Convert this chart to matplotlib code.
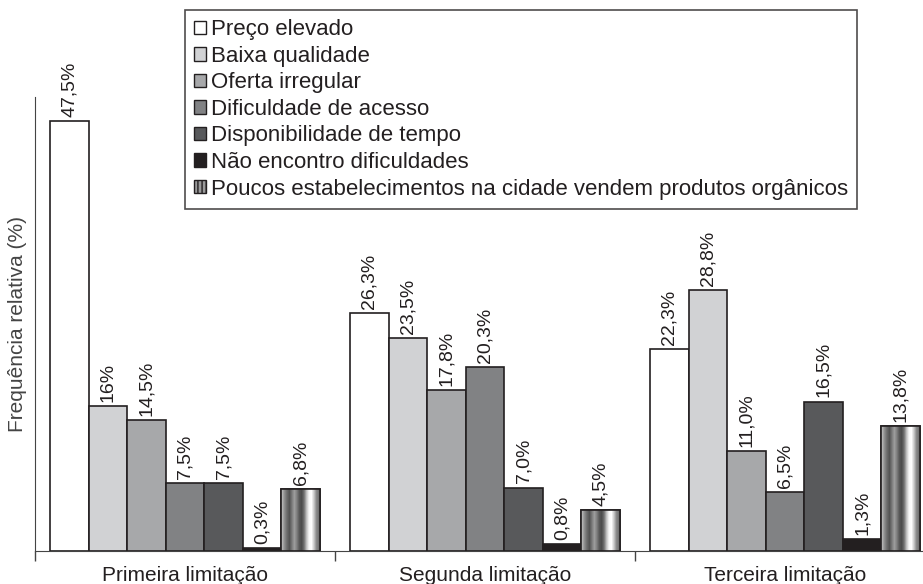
import matplotlib
matplotlib.use('Agg')
import matplotlib.pyplot as plt
from matplotlib.patches import Patch
import numpy as np

groups = ['Primeira limitação', 'Segunda limitação', 'Terceira limitação']
series = ['Preço elevado', 'Baixa qualidade', 'Oferta irregular',
          'Dificuldade de acesso', 'Disponibilidade de tempo',
          'Não encontro dificuldades',
          'Poucos estabelecimentos na cidade vendem produtos orgânicos']
preco = [47.5, 26.3, 22.3]
baixa = [16.0, 23.5, 28.8]
oferta = [14.5, 17.8, 11.0]
dificuldade = [7.5, 20.3, 6.5]
disponibilidade = [7.5, 7.0, 16.5]
nao_encontro = [0.3, 0.8, 1.3]
poucos = [6.8, 4.5, 13.8]
labels = [
    ['47,5%', '26,3%', '22,3%'],
    ['16%', '23,5%', '28,8%'],
    ['14,5%', '17,8%', '11,0%'],
    ['7,5%', '20,3%', '6,5%'],
    ['7,5%', '7,0%', '16,5%'],
    ['0,3%', '0,8%', '1,3%'],
    ['6,8%', '4,5%', '13,8%'],
]
values = [preco, baixa, oferta, dificuldade, disponibilidade, nao_encontro, poucos]
colors = ['#ffffff', '#d1d2d4', '#a7a8aa', '#818284', '#58595b', '#231f20', '#8a8a8a']

txt = '#231f20'
plt.rcParams['font.family'] = ['Liberation Sans', 'DejaVu Sans']

fig = plt.figure(figsize=(9.23, 5.84), dpi=100)
ax = fig.add_axes([0.038, 0.0565, 0.962, 0.778])

x = np.arange(len(groups))
n = len(series)
w = 0.9 / n

# gradient used for the striped series
stripe = np.array([0.72, 0.55, 0.42, 0.33, 0.48, 0.62, 0.5, 0.35, 0.3, 0.45,
                   0.75, 0.97, 1.0, 0.8, 0.55, 0.45])

for i, (vals, col) in enumerate(zip(values, colors)):
    xs = x - 0.45 + w * (i + 0.5)
    bars = ax.bar(xs, vals, width=w, color=col, edgecolor='#231f20',
                  linewidth=1.2, zorder=2)
    if i == n - 1:
        for b in bars:
            im = ax.imshow(stripe[None, :], cmap='gray', vmin=0, vmax=1,
                           aspect='auto', interpolation='bilinear',
                           extent=[b.get_x(), b.get_x() + b.get_width(),
                                   0, b.get_height()], zorder=2.5)
            im.set_clip_path(b)
        for b in bars:
            ax.bar(b.get_x() + b.get_width() / 2, b.get_height(), width=w,
                   fill=False, edgecolor='#231f20', linewidth=1.2, zorder=3)
    for xi, v, lab in zip(xs, vals, labels[i]):
        ax.annotate(lab, (xi, v), xytext=(0, 3), textcoords='offset points',
                    rotation=90, ha='center', va='bottom', fontsize=14,
                    color=txt)

ax.set_xlim(-0.5, 2.46)
ax.set_ylim(0, 50.2)
ax.set_xticks(x)
ax.set_xticklabels(groups, fontsize=15, color=txt)
ax.tick_params(axis='x', length=0, pad=11)
ax.set_xticks([-0.5, 0.5, 1.5], minor=True)
ax.tick_params(axis='x', which='minor', length=7, width=1, color='#444444')
ax.set_yticks([])
for s in ['top', 'right']:
    ax.spines[s].set_visible(False)
ax.spines['left'].set_color('#444444')
ax.spines['bottom'].set_color('#444444')
ax.set_ylabel('Frequência relativa (%)', fontsize=15, color='#444444', labelpad=6)

handles = [Patch(facecolor=c, edgecolor='#231f20', linewidth=1) for c in colors]
handles[-1] = Patch(facecolor='#9a9a9a', edgecolor='#231f20', linewidth=1, hatch='||||')
leg = fig.legend(handles, series, loc='upper left', bbox_to_anchor=(0.2, 0.983),
                 fontsize=16, frameon=True, fancybox=False, handlelength=0.55,
                 handleheight=0.55, handletextpad=0.2, labelspacing=0.25,
                 borderpad=0.42, borderaxespad=0)
leg.get_frame().set_edgecolor('#231f20')
leg.get_frame().set_linewidth(1.2)
for t in leg.get_texts():
    t.set_color(txt)

fig.savefig('out.png', dpi=100)
